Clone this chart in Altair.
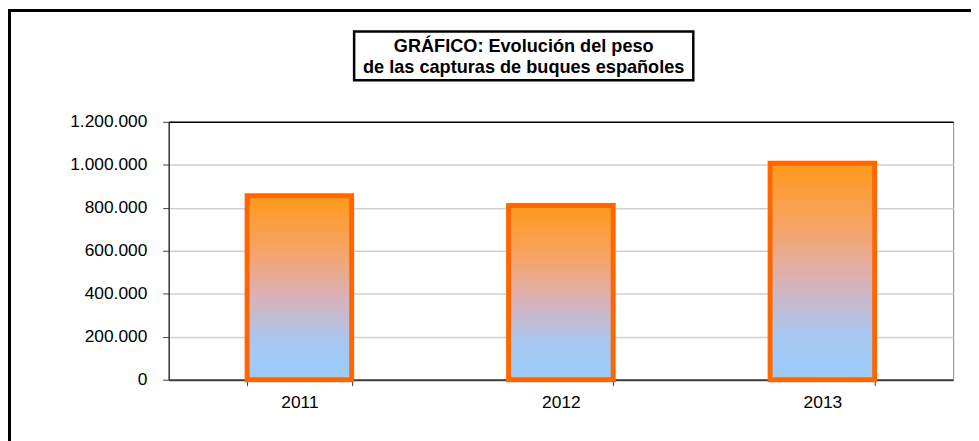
import altair as alt
import pandas as pd

# ---- data ----
YEARS = ["2011", "2012", "2013"]
CATCH_WEIGHT = [856000, 811000, 1007000]
Y_TICKS = [0, 200000, 400000, 600000, 800000, 1000000, 1200000]
TITLE_LINES = ["GRÁFICO: Evolución del peso", "de las capturas de buques españoles"]

df = pd.DataFrame({"year": YEARS, "peso": CATCH_WEIGHT})
one = pd.DataFrame({"k": [0]})

FONT = "Liberation Sans"

gradient = alt.LinearGradient(
    gradient="linear",
    x1=0, y1=0, x2=0, y2=1,
    stops=[
        alt.GradientStop(offset=0.0, color="#FF991A"),
        alt.GradientStop(offset=0.3, color="#F6A466"),
        alt.GradientStop(offset=0.55, color="#D9B2B8"),
        alt.GradientStop(offset=0.78, color="#A9C6EE"),
        alt.GradientStop(offset=1.0, color="#99CCFF"),
    ],
)

bars = alt.Chart(df).mark_bar(
    fill=gradient, stroke="#FF6600", strokeWidth=5
).encode(
    x=alt.X(
        "year:N",
        title=None,
        scale=alt.Scale(paddingInner=0.6, paddingOuter=0.3),
        axis=alt.Axis(
            labelAngle=0,
            labelFontSize=17.5,
            labelPadding=8,
            tickBand="extent",
            tickSize=6,
            tickColor="#404040",
            domainColor="#404040",
            domainWidth=2,
            grid=False,
        ),
    ),
    y=alt.Y(
        "peso:Q",
        title=None,
        scale=alt.Scale(domain=[0, 1200000], nice=False),
        axis=alt.Axis(
            values=Y_TICKS,
            labelExpr="join(split(format(datum.value, ','), ','), '.')",
            labelFontSize=17.5,
            labelPadding=16,
            tickSize=6,
            tickColor="#404040",
            domainColor="#000000",
            domainWidth=1,
            grid=True,
            gridColor={"condition": {"test": "datum.value === 1200000", "value": "#000000"},
                       "value": "#D0D0D0"},
            gridWidth=1.5,
        ),
    ),
)

frame = alt.Chart(one).mark_rect(
    filled=False, stroke="#000000", strokeWidth=3
).encode(
    x=alt.value(-160.5), x2=alt.value(1000),
    y=alt.value(-112.3), y2=alt.value(700),
)

title_box = alt.Chart(one).mark_rect(
    fill="#FFFFFF", stroke="#000000", strokeWidth=2.5
).encode(
    x=alt.value(187), x2=alt.value(529),
    y=alt.value(-91), y2=alt.value(-42),
)

title_text = alt.Chart(one).mark_text(
    font=FONT, fontSize=18.3, fontWeight="bold", align="center",
    baseline="alphabetic", lineHeight=21, color="#000000",
).encode(
    x=alt.value(358), y=alt.value(-70.3), text=alt.value(TITLE_LINES),
)

chart = alt.layer(frame, title_box, title_text, bars).properties(
    width=791,
    height=260,
    padding={"left": 162, "top": 113, "right": 18, "bottom": 60},
    autosize=alt.AutoSizeParams(type="none"),
    background="#FFFFFF",
).configure_view(
    stroke="#888888", strokeWidth=1
).configure_axis(
    labelFont=FONT, labelColor="#000000"
)

chart.save("out.html", embed_options={"renderer": "svg", "actions": False})
